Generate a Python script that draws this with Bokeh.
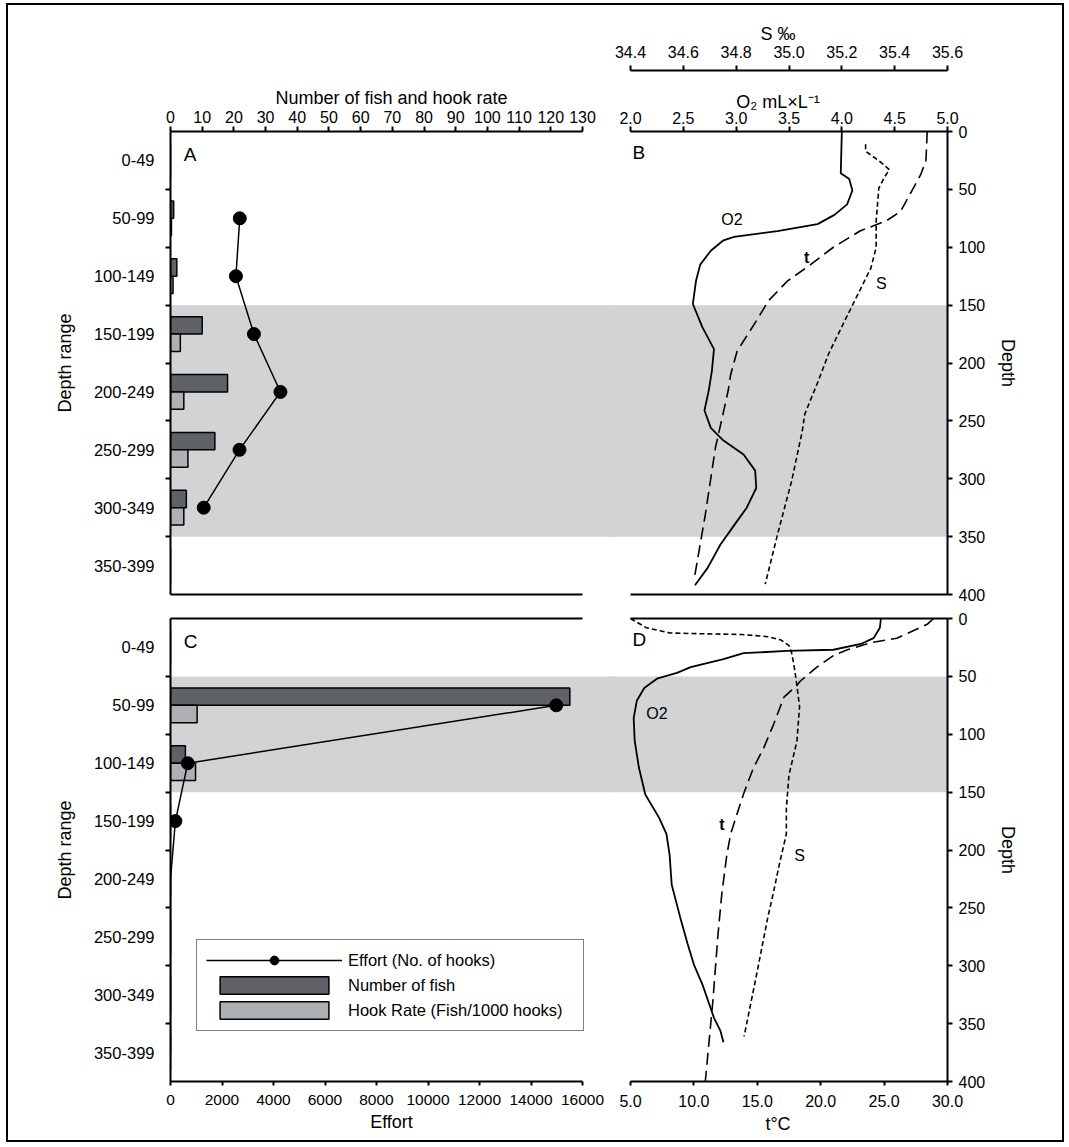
import numpy as np
from bokeh.plotting import figure
from bokeh.models import (Range1d, LinearAxis, FixedTicker, PrintfTickFormatter, BoxAnnotation,
                          ColumnDataSource, Label, Legend, LegendItem)
from bokeh.layouts import row, column
from bokeh.transform import dodge
from bokeh.embed import file_html
from bokeh.resources import INLINE

FONT = "Liberation Sans"
DARK = "#5e6266"
LIGHT = "#aeb1b4"
BAND = "#d1d3d5"

# ---------------------------------------------------------------- data
depth_ranges = ["0-49", "50-99", "100-149", "150-199", "200-249", "250-299", "300-349", "350-399"]
bin_start = [0, 50, 100, 150, 200, 250, 300, 350]
bin_width = 50

# Panel A (upper fishing area)
fish_A = [0, 1, 2, 10, 18, 14, 5, 0]
hook_rate_A = [0, 0.3, 0.8, 3.1, 4.2, 5.5, 4.2, 0]
effort_A = [None, 2690, 2540, 3240, 4270, 2680, 1290, None]

# Panel C (lower fishing area)
fish_C = [0, 126, 4.7, 0, 0, 0, 0, 0]
hook_rate_C = [0, 8.4, 7.9, 0, 0, 0, 0, 0]
effort_C = [None, 14980, 670, 190, 0, 0, 0, 0]

# Panel B profiles
o2_B_depth = [0, 36, 41, 51, 63, 72, 80, 86, 91, 94, 103, 115, 129, 149, 169, 188, 207, 224,
              241, 256, 267, 279, 293, 308, 325, 339, 357, 377, 392]
o2_B = [4.00, 3.99, 4.07, 4.10, 4.05, 3.93, 3.77, 3.39, 2.98, 2.88, 2.76, 2.66, 2.62, 2.59, 2.68,
        2.79, 2.77, 2.74, 2.70, 2.76, 2.88, 3.07, 3.18, 3.19, 3.10, 2.99, 2.85, 2.73, 2.61]
t_B_depth = [0, 25, 37, 51, 69, 77, 86, 100, 115, 129, 146, 164, 190, 210, 224, 239, 273, 331, 388]
t_B = [28.4, 28.3, 27.9, 27.2, 26.3, 25.2, 23.1, 21.0, 19.2, 17.4, 15.9, 14.9, 13.4, 12.9, 12.7,
       12.4, 11.7, 10.9, 10.0]
s_B_depth = [11, 17, 27, 33, 40, 49, 77, 100, 118, 141, 164, 192, 216, 244, 259, 302, 345, 391]
s_B = [35.29, 35.29, 35.35, 35.38, 35.36, 35.34, 35.33, 35.33, 35.31, 35.26, 35.21, 35.15, 35.11,
       35.06, 35.05, 35.01, 34.96, 34.91]

# Panel D profiles
o2_D_depth = [0, 8, 17, 22, 27, 28, 30, 35, 42, 47, 52, 60, 71, 86, 106, 129, 152, 172, 186, 204,
              230, 258, 281, 299, 316, 345, 356, 366]
o2_D = [4.37, 4.36, 4.30, 4.18, 3.92, 3.48, 3.07, 2.88, 2.57, 2.44, 2.25, 2.13, 2.06, 2.03, 2.04,
        2.08, 2.14, 2.27, 2.34, 2.37, 2.39, 2.47, 2.54, 2.60, 2.68, 2.79, 2.85, 2.88]
t_D_depth = [0, 5, 17, 21, 27, 32, 42, 54, 58, 68, 91, 112, 129, 152, 169, 186, 204, 238, 273, 330, 400]
t_D = [28.9, 28.4, 26.0, 23.9, 22.1, 21.0, 19.7, 18.4, 18.1, 17.1, 16.3, 15.5, 14.7, 13.9, 13.4,
       12.9, 12.6, 12.2, 11.9, 11.5, 10.9]
s_D_depth = [0, 8, 12.5, 13.2, 13.8, 15.7, 18.6, 23.5, 29.7, 42, 58, 76, 106, 135, 164, 186, 216,
             238, 258, 316, 361]
s_D = [34.40, 34.46, 34.55, 34.67, 34.82, 34.92, 34.97, 35.00, 35.01, 35.02, 35.03, 35.04, 35.03,
       35.00, 34.99, 34.99, 34.96, 34.94, 34.92, 34.87, 34.83]

shade_top = (150, 350)
shade_bottom = (50, 150)

fish_ticks = list(range(0, 131, 10))
effort_ticks = list(range(0, 16001, 2000))
o2_ticks = [2.0, 2.5, 3.0, 3.5, 4.0, 4.5, 5.0]
s_ticks = [34.4, 34.6, 34.8, 35.0, 35.2, 35.4, 35.6]
t_ticks = [5.0, 10.0, 15.0, 20.0, 25.0, 30.0]
depth_ticks = list(range(0, 401, 50))

# ---------------------------------------------------------------- layout constants
OVERLAP = 4                      # right panels slide this far over the left ones
LEFT_FRAME_W, LEFT_AXIS_W = 442, 412
RIGHT_FRAME_W, RIGHT_AXIS_W = 335 + OVERLAP, 317
FRAME_H = 463
TOP_B, BOT_B = 126, 12          # borders of upper row
TOP_C, BOT_C = 12, 59           # borders of lower row
LEFT_BORDER = 162
RIGHT_BORDER = 115

fish_end = fish_ticks[-1] * LEFT_FRAME_W / LEFT_AXIS_W
effort_end = effort_ticks[-1] * LEFT_FRAME_W / LEFT_AXIS_W
o2_start = o2_ticks[-1] - (o2_ticks[-1] - o2_ticks[0]) * RIGHT_FRAME_W / RIGHT_AXIS_W
s_start = s_ticks[-1] - (s_ticks[-1] - s_ticks[0]) * RIGHT_FRAME_W / RIGHT_AXIS_W
t_start = t_ticks[-1] - (t_ticks[-1] - t_ticks[0]) * RIGHT_FRAME_W / RIGHT_AXIS_W


def style_axis(ax, label_size="16px"):
    ax.axis_line_color = "black"
    ax.axis_line_width = 2
    ax.major_tick_line_color = "black"
    ax.major_tick_line_width = 2
    ax.major_tick_out = 5
    ax.major_tick_in = 0
    ax.minor_tick_line_color = None
    ax.major_label_text_font = FONT
    ax.major_label_text_font_size = label_size
    ax.major_label_text_color = "black"
    ax.major_label_standoff = 3
    ax.axis_label_text_font = FONT
    ax.axis_label_text_font_size = "18px"
    ax.axis_label_text_font_style = "normal"
    ax.axis_label_text_color = "black"
    ax.axis_label_standoff = 4
    return ax


def line_axis(range_name, bounds):
    ax = LinearAxis(x_range_name=range_name, bounds=bounds, ticker=FixedTicker(ticks=[]))
    ax.axis_line_color = "black"
    ax.axis_line_width = 2
    ax.major_tick_out = 0
    ax.major_tick_in = 0
    ax.minor_tick_out = 0
    ax.minor_tick_in = 0
    ax.major_label_standoff = 0
    return ax


def make_fig(width, height, top, bottom, left, right, x_range, transparent=False):
    fill = None if transparent else "white"
    p = figure(width=width, height=height, x_range=x_range, y_range=Range1d(400, 0),
               x_axis_location=None, y_axis_location=None, toolbar_location=None,
               output_backend="svg", min_border_left=left, min_border_right=right,
               min_border_top=top, min_border_bottom=bottom, outline_line_color=None,
               background_fill_color=fill, border_fill_color=fill)
    p.grid.visible = False
    return p


def band(shade, lo, hi):
    return BoxAnnotation(top=shade[0], bottom=shade[1], left=lo, right=hi, fill_color=BAND,
                         fill_alpha=1, line_color=None, level="underlay")


def left_panel(top_row, fish, hook, effort, shade, letter):
    h = (TOP_B + FRAME_H + BOT_B) if top_row else (TOP_C + FRAME_H + BOT_C)
    p = make_fig(LEFT_BORDER + LEFT_FRAME_W, h, TOP_B if top_row else TOP_C,
                 BOT_B if top_row else BOT_C, LEFT_BORDER, 0, Range1d(0, fish_end))
    p.extra_x_ranges = {"effort": Range1d(0, effort_end)}
    p.add_layout(band(shade, -fish_end * 0.05, fish_end * 1.05))
    mids = [s + bin_width // 2 for s in bin_start]
    edges = bin_start[1:]
    yax = LinearAxis(ticker=FixedTicker(ticks=mids, minor_ticks=edges),
                     major_label_overrides={m: lab for m, lab in zip(mids, depth_ranges)},
                     axis_label="Depth range")
    style_axis(yax, "16.5px")
    yax.major_tick_out = 0
    yax.major_tick_line_color = None
    yax.minor_tick_line_color = "black"
    yax.minor_tick_line_width = 2
    yax.minor_tick_out = 5
    yax.minor_tick_in = 0
    yax.major_label_standoff = 11
    yax.axis_label_standoff = 16
    p.add_layout(yax, "left")

    src = ColumnDataSource(dict(mid=mids, fish=fish, hook=hook))
    r_fish = p.hbar(y=dodge("mid", -7.5), left=0, right="fish", height=15, source=src,
                    fill_color=DARK, line_color="black", line_width=1.5)
    r_hook = p.hbar(y=dodge("mid", 7.5), left=0, right="hook", height=15, source=src,
                    fill_color=LIGHT, line_color="black", line_width=1.5)
    pairs = [(m, e) for m, e in zip(mids, effort) if e is not None]
    esrc = ColumnDataSource(dict(mid=[m for m, _ in pairs], effort=[e for _, e in pairs]))
    msrc = ColumnDataSource(dict(mid=[m for m, e in pairs if e > 0],
                                 effort=[e for _, e in pairs if e > 0]))
    r_line = p.line(x="effort", y="mid", source=esrc, x_range_name="effort",
                    line_color="black", line_width=1.5)
    r_dot = p.scatter(x="effort", y="mid", source=msrc, x_range_name="effort", size=13,
                      fill_color="black", line_color="black")
    p.add_layout(Label(x=fish_end * 0.03, y=20, text=letter, text_font=FONT, text_color="black",
                       text_font_size="19px", text_baseline="middle", text_align="left"))
    return p, (r_line, r_dot, r_fish, r_hook)


def right_panel(top_row, o2d, o2, td, t, sd, s, shade, letter, labels):
    h = (TOP_B + FRAME_H + BOT_B) if top_row else (TOP_C + FRAME_H + BOT_C)
    p = make_fig(RIGHT_FRAME_W + RIGHT_BORDER, h, TOP_B if top_row else TOP_C,
                 BOT_B if top_row else BOT_C, 0, RIGHT_BORDER, Range1d(o2_start, o2_ticks[-1]),
                 transparent=True)
    p.styles = {"margin-left": "-%dpx" % OVERLAP}
    p.extra_x_ranges = {"S": Range1d(s_start, s_ticks[-1]), "t": Range1d(t_start, t_ticks[-1])}
    p.add_layout(band(shade, o2_start - 0.2, o2_ticks[-1] + 0.2))
    dax = LinearAxis(ticker=FixedTicker(ticks=depth_ticks), axis_label="Depth")
    style_axis(dax)
    dax.major_label_standoff = 6
    dax.axis_label_standoff = 10
    p.add_layout(dax, "right")

    p.line(x=o2, y=o2d, line_color="black", line_width=1.8)
    p.line(x=t, y=td, x_range_name="t", line_color="black", line_width=1.6, line_dash="12 6")
    p.line(x=s, y=sd, x_range_name="S", line_color="black", line_width=1.6, line_dash="5 3")

    p.add_layout(Label(x=o2_ticks[0] + 0.02, y=18, text=letter, text_font=FONT, text_color="black",
                       text_font_size="19px", text_baseline="middle", text_align="left"))
    for (txt, rng, xv, yv, bold) in labels:
        p.add_layout(Label(x=xv, y=yv, text=txt, x_range_name=rng, text_font=FONT,
                           text_color="black", text_font_size="16px",
                           text_font_style="bold" if bold else "normal",
                           text_baseline="middle", text_align="center"))
    return p


# ---------------------------------------------------------------- panel A
pA, _ = left_panel(True, fish_A, hook_rate_A, effort_A, shade_top, "A")
fax = LinearAxis(bounds=(fish_ticks[0], fish_ticks[-1]), ticker=FixedTicker(ticks=fish_ticks),
                 axis_label="Number of fish and hook rate")
style_axis(fax)
fax.major_label_standoff = 4
fax.axis_label_standoff = 0
pA.add_layout(fax, "above")
pA.add_layout(line_axis("default", (fish_ticks[0], fish_ticks[-1])), "below")

# ---------------------------------------------------------------- panel B
pB = right_panel(True, o2_B_depth, o2_B, t_B_depth, t_B, s_B_depth, s_B, shade_top, "B",
                 [("O2", "default", 2.96, 76, False), ("t", "t", 18.9, 109, True),
                  ("S", "S", 35.35, 131, False)])
oax = LinearAxis(bounds=(o2_ticks[0], o2_ticks[-1]), ticker=FixedTicker(ticks=o2_ticks),
                 formatter=PrintfTickFormatter(format="%.1f"), axis_label="O\u2082 mL\u00d7L\u207b\u00b9")
style_axis(oax)
oax.axis_label_standoff = -3
pB.add_layout(oax, "above")
spacer = LinearAxis(ticker=FixedTicker(ticks=[]), axis_line_color=None, major_tick_out=0,
                    major_tick_in=0, major_label_standoff=0, major_tick_line_color=None,
                    minor_tick_out=0, minor_tick_in=0, axis_label="\u00a0",
                    axis_label_text_font_size="10px", axis_label_standoff=4)
pB.add_layout(spacer, "above")
sax = LinearAxis(x_range_name="S", bounds=(s_ticks[0], s_ticks[-1]), ticker=FixedTicker(ticks=s_ticks),
                 formatter=PrintfTickFormatter(format="%.1f"), axis_label="S \u2030")
style_axis(sax)
sax.major_label_standoff = 8
sax.axis_label_standoff = -1
pB.add_layout(sax, "above")
pB.add_layout(line_axis("default", (o2_ticks[0], o2_ticks[-1])), "below")

# ---------------------------------------------------------------- panel C
pC, (r_line, r_dot, r_fish, r_hook) = left_panel(False, fish_C, hook_rate_C, effort_C,
                                                 shade_bottom, "C")
eax = LinearAxis(x_range_name="effort", bounds=(effort_ticks[0], effort_ticks[-1]),
                 ticker=FixedTicker(ticks=effort_ticks), axis_label="Effort")
style_axis(eax, "15.5px")
eax.major_tick_out = 4
eax.major_label_standoff = 9
pC.add_layout(eax, "below")
pC.add_layout(line_axis("default", (fish_ticks[0], fish_ticks[-1])), "above")
legend = Legend(items=[LegendItem(label="Effort (No. of hooks)", renderers=[r_line, r_dot]),
                       LegendItem(label="Number of fish", renderers=[r_fish]),
                       LegendItem(label="Hook Rate (Fish/1000 hooks)", renderers=[r_hook])],
                location=(26, 50), border_line_color="black", border_line_width=1.5,
                background_fill_color="white", background_fill_alpha=1,
                label_text_font=FONT, label_text_font_size="16.5px", label_text_color="black",
                glyph_width=136, glyph_height=22, label_height=22, label_width=226,
                spacing=3, padding=9, label_standoff=6, margin=0)
pC.add_layout(legend)

# ---------------------------------------------------------------- panel D
pD = right_panel(False, o2_D_depth, o2_D, t_D_depth, t_D, s_D_depth, s_D, shade_bottom, "D",
                 [("O2", "default", 2.25, 82, False), ("t", "t", 12.2, 178, True),
                  ("S", "S", 35.04, 205, False)])
tax = LinearAxis(x_range_name="t", bounds=(t_ticks[0], t_ticks[-1]), ticker=FixedTicker(ticks=t_ticks),
                 formatter=PrintfTickFormatter(format="%.1f"), axis_label="t\u00b0C")
style_axis(tax)
tax.major_tick_out = 4
tax.major_label_standoff = 9
pD.add_layout(tax, "below")
pD.add_layout(line_axis("default", (o2_ticks[0], o2_ticks[-1])), "above")

layout = column(row(pA, pB, spacing=0), row(pC, pD, spacing=0), spacing=0)
layout.styles = {"outline": "2px solid black", "margin-left": "8px", "margin-top": "5px"}

open("out.html", "w").write(file_html(layout, INLINE))
